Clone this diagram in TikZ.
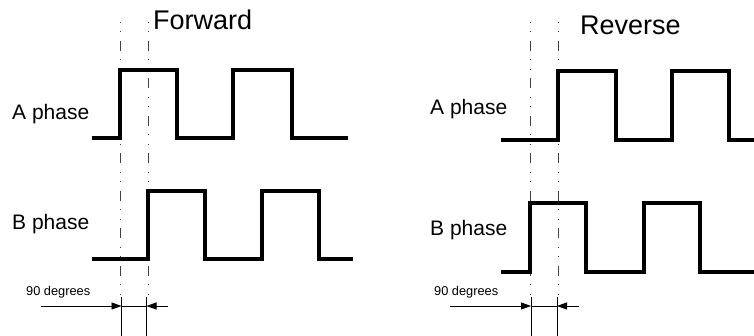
\documentclass[tikz,border=0pt]{standalone}
\usepackage{fontspec}
\setmainfont{Liberation Sans}
\usetikzlibrary{arrows.meta}
\begin{document}
\begin{tikzpicture}[x=1pt,y=-1pt,
  sig/.style={line width=3.3pt,line join=miter,black},
  dashdot/.style={line width=1pt,draw=black!75,dash pattern=on 1pt off 8.5pt on 1pt off 8.5pt on 10pt off 8.5pt},
  extline/.style={line width=0.9pt,black},
  dimarrow/.style={line width=0.9pt,black,-{Triangle[length=10pt,width=7pt]}},
  dimline/.style={line width=0.9pt,black},
  title/.style={inner sep=0pt,anchor=base west,font=\fontsize{27}{29}\selectfont},
  phase/.style={inner sep=0pt,anchor=base west,font=\fontsize{21}{24}\selectfont},
  deg/.style={inner sep=0pt,anchor=base west,font=\fontsize{12.8}{14}\selectfont}]
\useasboundingbox (0,0) rectangle (754,336);
% ---------- Forward ----------
\draw[dashdot] (120,22) -- (120,297);
\draw[dashdot] (148,22) -- (148,297);
\draw[sig] (92,138) -- (120,138) -- (120,70) -- (177,70) -- (177,138) -- (233,138) -- (233,70) -- (292,70) -- (292,138) -- (348,138);
\draw[sig] (92,259) -- (148,259) -- (148,191) -- (205,191) -- (205,259) -- (262,259) -- (262,191) -- (319,191) -- (319,259) -- (353,259);
\node[title] (fwd) at (153,30) {Forward};
\node[phase] (fa) at (12,119.5) {A phase};
\node[phase] (fb) at (12,230) {B phase};
\node[deg] (fdeg) at (26,295) {90 degrees};
\coordinate (fe1t) at (121.5,297); \coordinate (fe1b) at (121.5,336);
\coordinate (fe2t) at (146.5,297); \coordinate (fe2b) at (146.5,336);
\coordinate (fd1) at (121.5,306); \coordinate (fd2) at (146.5,306);
\coordinate (fl) at (41,306); \coordinate (fr) at (168,306);
\draw[extline] (fe1t) -- (fe1b);
\draw[extline] (fe2t) -- (fe2b);
\draw[dimline] (fd1) -- (fd2);
\draw[dimarrow] (fl) -- (fd1);
\draw[dimarrow] (fr) -- (fd2);
% ---------- Reverse ----------
\draw[dashdot] (530,22) -- (530,297);
\draw[dashdot] (558,22) -- (558,297);
\draw[sig] (501,140) -- (558,140) -- (558,71) -- (616,71) -- (616,140) -- (672,140) -- (672,71) -- (729,71) -- (729,140) -- (756,140);
\draw[sig] (501,272) -- (530,272) -- (530,203) -- (586,203) -- (586,272) -- (644,272) -- (644,203) -- (700,203) -- (700,272) -- (756,272);
\node[title] (rev) at (580,35) {Reverse};
\node[phase] (ra) at (430,115) {A phase};
\node[phase] (rb) at (430,236) {B phase};
\node[deg] (rdeg) at (434,295) {90 degrees};
\coordinate (re1t) at (531,297); \coordinate (re1b) at (531,336);
\coordinate (re2t) at (557,297); \coordinate (re2b) at (557,336);
\coordinate (rd1) at (531,306); \coordinate (rd2) at (557,306);
\coordinate (rl) at (450,306); \coordinate (rr) at (579,306);
\draw[extline] (re1t) -- (re1b);
\draw[extline] (re2t) -- (re2b);
\draw[dimline] (rd1) -- (rd2);
\draw[dimarrow] (rl) -- (rd1);
\draw[dimarrow] (rr) -- (rd2);
\end{tikzpicture}
\end{document}
